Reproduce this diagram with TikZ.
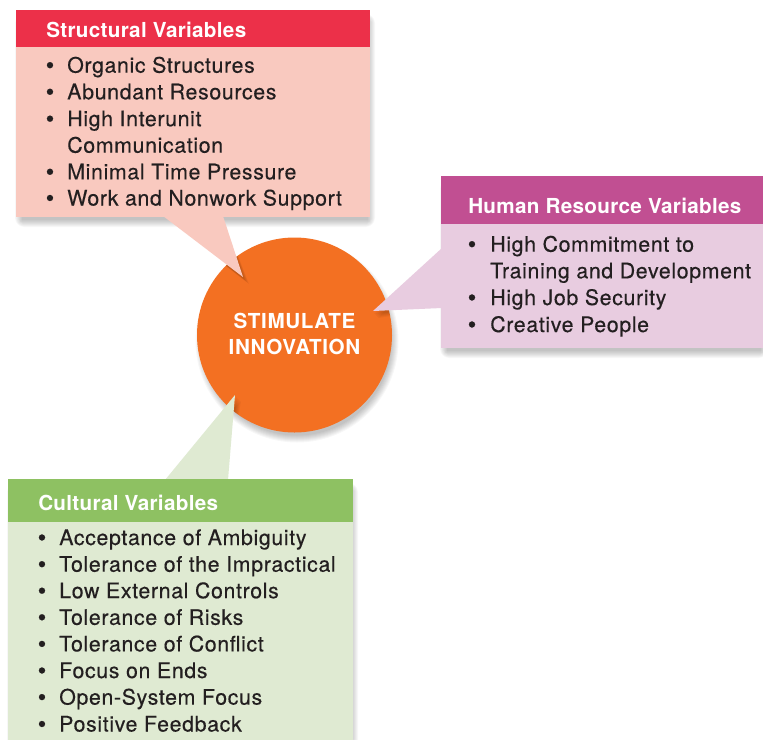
\documentclass[tikz,border=0pt]{standalone}
\usepackage{fontspec}
\setmainfont{TeX Gyre Heros}[LetterSpace=3]
\newfontfamily\headfont{TeX Gyre Heros}[LetterSpace=1.5]
\newfontfamily\itemfont{TeX Gyre Heros}[LetterSpace=3,FakeBold=0.35]
\newfontfamily\bulfont{Liberation Sans}[FakeBold=0.4]
\definecolor{txt}{HTML}{231F20}
\definecolor{redhead}{HTML}{EC3049}
\definecolor{redbody}{HTML}{F9C9BF}
\definecolor{purhead}{HTML}{C14F92}
\definecolor{purbody}{HTML}{E8CCE0}
\definecolor{grnhead}{HTML}{8EC162}
\definecolor{grnbody}{HTML}{DFEAD2}
\definecolor{orng}{HTML}{F37022}
\tikzset{
  headtxt/.style={anchor=base west,inner sep=0pt,text=white,font=\headfont\fontsize{15.5}{18}\selectfont\bfseries},
  itemtxt/.style={anchor=base west,inner sep=0pt,text=txt,font=\itemfont\fontsize{16}{18}\selectfont},
  bul/.style={anchor=base,inner sep=0pt,text=txt,font=\bulfont\fontsize{17}{18}\selectfont},
  shad/.style={fill=black,opacity=0.03},
}
\newcommand{\softshadow}[4]{%
  \foreach \k in {0,...,7}{%
    \fill[shad,rounded corners=\k pt] ({#1+2-\k+4},{#2+7-\k+4}) rectangle ({#3+2+\k-4},{#4+7+\k-4});
  }}
\begin{document}
\begin{tikzpicture}[x=0.75pt,y=-0.75pt]
\useasboundingbox (0,0) rectangle (763,739);
\fill[white] (0,0) rectangle (763,739);
% shadows of boxes
\softshadow{16}{10}{370}{217}
\softshadow{441}{176}{763}{348}
\softshadow{8}{479}{353}{760}
% circle with shadow
\foreach \k in {0,...,7}{\fill[shad] (297,341) circle ({97.5-3+\k});}
\node[circle,fill=orng,minimum size={97.5*2*0.75pt},inner sep=0pt] (core) at (294.5,335) {};
\node[align=center,text=white,font=\fontsize{15.5}{19}\selectfont\bfseries] (coretxt) at (294.5,334) {STIMULATE\\INNOVATION};
% pointer shadows onto circle
\begin{scope}
\clip (294.5,335) circle (97.5);
\foreach \k in {0,...,4}{
  \fill[black,opacity=0.04] (163,217) -- ({243+2+\k},{277+3+\k}) -- (223,217) -- cycle;
  \fill[black,opacity=0.04] (441,248) -- ({373+1+\k},{311+3+\k}) -- (441,308) -- cycle;
  \fill[black,opacity=0.04] (165,479) -- ({235+2+\k},{395+2+\k}) -- (228,479) -- cycle;
}
\end{scope}
% Structural box
\fill[redbody] (16,10) rectangle (370,217);
\fill[redbody] (163,216) -- (243,277) -- (223,216) -- cycle;
\fill[redhead] (16,10) rectangle (370,46.5);
\node[headtxt] (sh) at (46,37) {Structural Variables};
\foreach \y/\t [count=\i] in {72.7/Organic Structures,99.3/Abundant Resources,126.2/High Interunit,179.3/Minimal Time Pressure,205.5/Work and Nonwork Support}{
  \node[bul] (sb\i) at (50,\y) {\char"2022};
  \node[itemtxt] (s\i) at (67,\y) {\t};
}
\node[itemtxt] (s3b) at (67,152.7) {Communication};
% Human Resource box
\fill[purbody] (441,176) rectangle (763,348);
\fill[purbody] (442,248) -- (373,311) -- (442,308) -- cycle;
\fill[purhead] (441,176) rectangle (763,224);
\node[headtxt] (hh) at (468,213) {Human Resource Variables};
\foreach \y/\t [count=\i] in {251.7/High Commitment to,305/High Job Security,332/Creative People}{
  \node[bul] (hb\i) at (472,\y) {\char"2022};
  \node[itemtxt] (h\i) at (490,\y) {\t};
}
\node[itemtxt] (h1b) at (490,278.3) {Training and Development};
% Cultural box
\fill[grnbody] (8,479) rectangle (353,760);
\fill[grnbody] (165,480) -- (235,395) -- (228,480) -- cycle;
\fill[grnhead] (8,479) rectangle (353,522);
\node[headtxt] (ch) at (38,510) {Cultural Variables};
\foreach \y/\t [count=\i] in {545/Acceptance of Ambiguity,571.7/Tolerance of the Impractical,598.2/Low External Controls,624.8/Tolerance of Risks,651.4/Tolerance of Conflict,678/Focus on Ends,704.6/Open-System Focus,731.5/Positive Feedback}{
  \node[bul] (cb\i) at (42,\y) {\char"2022};
  \node[itemtxt] (c\i) at (59,\y) {\t};
}
\end{tikzpicture}
\end{document}
